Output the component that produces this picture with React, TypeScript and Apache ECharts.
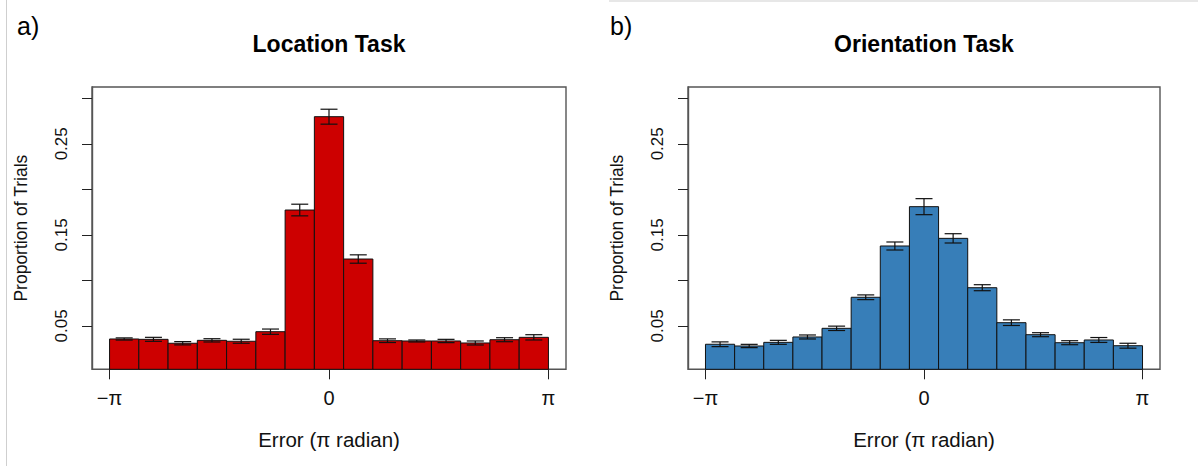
import React, { useEffect, useRef } from "react";
import * as echarts from "echarts";

// Bin centres in units of π (15 bins spanning −π..π)
const BIN_CENTERS = [-14 / 15, -12 / 15, -10 / 15, -8 / 15, -6 / 15, -4 / 15, -2 / 15, 0, 2 / 15, 4 / 15, 6 / 15, 8 / 15, 10 / 15, 12 / 15, 14 / 15];
const BIN_HALF = 1 / 15;

const LOCATION_VALUES = [0.0357, 0.0353, 0.031, 0.0342, 0.0332, 0.0437, 0.1773, 0.2798, 0.1235, 0.0338, 0.0335, 0.0335, 0.0313, 0.0349, 0.0375];
const LOCATION_ERRORS = [0.0012, 0.0022, 0.0018, 0.0018, 0.0022, 0.0029, 0.0064, 0.0082, 0.0046, 0.002, 0.0011, 0.0018, 0.0022, 0.0022, 0.0029];

const ORIENTATION_VALUES = [0.0299, 0.028, 0.032, 0.0379, 0.0474, 0.0815, 0.1378, 0.181, 0.1462, 0.092, 0.0536, 0.0404, 0.0316, 0.0346, 0.0283];
const ORIENTATION_ERRORS = [0.0026, 0.0018, 0.0022, 0.0022, 0.0024, 0.0026, 0.0044, 0.0088, 0.0051, 0.0033, 0.0031, 0.0022, 0.0022, 0.0027, 0.0027];

const X_TICKS = [-1, 0, 1];
const X_TICK_LABELS = ["\u2212\u03c0", "0", "\u03c0"];
const Y_TICKS = [0.05, 0.1, 0.15, 0.2, 0.25, 0.3];
const Y_LABELS = [0.05, 0.15, 0.25];

const PANELS = [
  { title: "Location Task", tag: "a)", values: LOCATION_VALUES, errors: LOCATION_ERRORS, color: "#CD0000" },
  { title: "Orientation Task", tag: "b)", values: ORIENTATION_VALUES, errors: ORIENTATION_ERRORS, color: "#377EB8" },
];

const FONT = "'Liberation Sans', Arial, Helvetica, sans-serif";
const Y_MIN = 0.0024;
const Y_MAX = 0.3124;
const X_MIN = -1.08;
const X_MAX = 1.08;

const GRIDS = [
  { left: 92, top: 87, width: 474, height: 282.3 },
  { left: 688, top: 87, width: 472, height: 282.3 },
];

export default function App() {
  const ref = useRef<HTMLDivElement>(null);
  useEffect(() => {
    if (!ref.current) return;
    const chart = echarts.init(ref.current, undefined, { renderer: "svg" });

    const grid: any[] = [];
    const xAxis: any[] = [];
    const yAxis: any[] = [];
    const series: any[] = [];
    const graphic: any[] = [];

    PANELS.forEach((p, i) => {
      const g = GRIDS[i];
      grid.push({ ...g, show: true, borderColor: "#555", borderWidth: 1.4, backgroundColor: "transparent" });
      xAxis.push({
        type: "value",
        gridIndex: i,
        min: X_MIN,
        max: X_MAX,
        axisLine: { show: false, onZero: false },
        splitLine: { show: false },
        axisTick: { show: true, customValues: X_TICKS, length: 10, lineStyle: { color: "#222", width: 1 } },
        axisLabel: {
          customValues: X_TICKS,
          formatter: (v: number) => X_TICK_LABELS[X_TICKS.indexOf(Math.round(v))],
          color: "#111",
          fontFamily: FONT,
          fontSize: 20,
          margin: 19,
        },
        name: "Error (\u03c0 radian)",
        nameLocation: "middle",
        nameGap: 60,
        nameTextStyle: { color: "#111", fontFamily: FONT, fontSize: 20.5 },
      });
      yAxis.push({
        type: "value",
        gridIndex: i,
        min: Y_MIN,
        max: Y_MAX,
        axisLine: { show: true, onZero: false, lineStyle: { color: "#555", width: 1.4 } },
        splitLine: { show: false },
        axisTick: { show: true, customValues: Y_TICKS, length: 10, lineStyle: { color: "#222", width: 1 } },
        axisLabel: {
          customValues: Y_LABELS,
          formatter: (v: number) => v.toFixed(2),
          rotate: 90,
          color: "#111",
          fontFamily: FONT,
          fontSize: 17,
          margin: 22,
        },
        name: "Proportion of Trials",
        nameLocation: "middle",
        nameRotate: 90,
        nameGap: 62,
        nameTextStyle: { color: "#111", fontFamily: FONT, fontSize: 17.5 },
      });

      const data = BIN_CENTERS.map((c, k) => [c, p.values[k], p.errors[k]]);
      series.push({
        type: "custom",
        xAxisIndex: i,
        yAxisIndex: i,
        data,
        encode: { x: 0, y: 1 },
        renderItem: (_params: any, api: any) => {
          const x = api.value(0);
          const y = api.value(1);
          const p1 = api.coord([x - BIN_HALF, y]);
          const p2 = api.coord([x + BIN_HALF, Y_MIN]);
          return {
            type: "rect",
            shape: { x: p1[0], y: p1[1], width: p2[0] - p1[0], height: p2[1] - p1[1] },
            style: { fill: p.color, stroke: "#111", lineWidth: 1 },
          };
        },
        z: 2,
      });
      series.push({
        type: "custom",
        xAxisIndex: i,
        yAxisIndex: i,
        data,
        encode: { x: 0, y: 1 },
        renderItem: (_params: any, api: any) => {
          const x = api.value(0);
          const y = api.value(1);
          const e = api.value(2);
          const top = api.coord([x, y + e]);
          const bot = api.coord([x, y - e]);
          const w = 8.5;
          const st = { stroke: "#111", lineWidth: 1.2 };
          return {
            type: "group",
            children: [
              { type: "line", shape: { x1: top[0], y1: top[1], x2: bot[0], y2: bot[1] }, style: st },
              { type: "line", shape: { x1: top[0] - w, y1: top[1], x2: top[0] + w, y2: top[1] }, style: st },
              { type: "line", shape: { x1: bot[0] - w, y1: bot[1], x2: bot[0] + w, y2: bot[1] }, style: st },
            ],
          };
        },
        z: 3,
      });

      graphic.push({
        type: "text",
        x: g.left + g.width / 2,
        y: 44,
        style: { text: p.title, fontFamily: FONT, fontSize: 23, fontWeight: "bold", fill: "#000", textAlign: "center", textVerticalAlign: "middle" },
      });
      graphic.push({
        type: "text",
        x: i === 0 ? 17 : 610,
        y: 26,
        style: { text: p.tag, fontFamily: FONT, fontSize: 25, fill: "#000", textAlign: "left", textVerticalAlign: "middle" },
      });
    });

    graphic.push({ type: "line", shape: { x1: 6.5, y1: 0, x2: 6.5, y2: 466 }, style: { stroke: "#cfcfcf", lineWidth: 1 } });
    graphic.push({ type: "line", shape: { x1: 609, y1: 1, x2: 1198, y2: 1 }, style: { stroke: "#cfcfcf", lineWidth: 1 } });

    chart.setOption({
      animation: false,
      backgroundColor: "#fff",
      grid,
      xAxis,
      yAxis,
      series,
      graphic,
    });
    return () => chart.dispose();
  }, []);

  return <div ref={ref} style={{ position: "fixed", left: 0, top: 0, width: 1198, height: 473 }} />;
}
